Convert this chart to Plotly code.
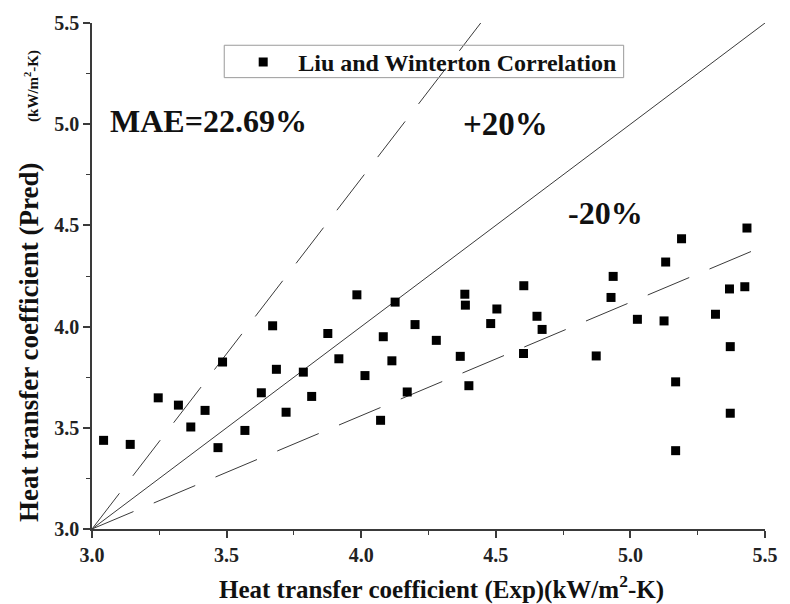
import plotly.graph_objects as go

# Experimental vs predicted heat transfer coefficient (kW/m2-K)
exp_vals = [3.043, 3.142, 3.246, 3.321, 3.367, 3.420, 3.468, 3.485, 3.568, 3.629,
            3.671, 3.685, 3.721, 3.785, 3.816, 3.876, 3.917, 3.984, 4.014, 4.072,
            4.082, 4.114, 4.126, 4.171, 4.200, 4.279, 4.368, 4.385, 4.387, 4.400,
            4.481, 4.504, 4.603, 4.604, 4.653, 4.672, 4.873, 4.928, 4.936, 5.026,
            5.125, 5.131, 5.168, 5.168, 5.190, 5.316, 5.368, 5.371, 5.371, 5.425,
            5.433]
pred_vals = [3.438, 3.418, 3.648, 3.612, 3.504, 3.586, 3.402, 3.825, 3.487, 3.673,
             4.004, 3.789, 3.577, 3.775, 3.655, 3.966, 3.841, 4.157, 3.758, 3.537,
             3.950, 3.831, 4.121, 3.677, 4.010, 3.932, 3.853, 4.160, 4.106, 3.708,
             4.015, 4.087, 3.867, 4.202, 4.051, 3.986, 3.855, 4.144, 4.248, 4.036,
             4.028, 4.319, 3.727, 3.387, 4.434, 4.061, 4.186, 3.901, 3.572, 4.197,
             4.487]

# Reference lines (start, end)
ideal_x = [3.0, 5.5]
ideal_y = [3.0, 5.5]
upper_x = [3.0, 4.444]
upper_y = [3.0, 5.5]
lower_x = [3.0, 5.5]
lower_y = [3.0, 4.40]

x_ticks = [3.0, 3.5, 4.0, 4.5, 5.0, 5.5]
y_ticks = [3.0, 3.5, 4.0, 4.5, 5.0, 5.5]

FONT = "Liberation Serif, Times New Roman, serif"
LINE_C = "#3a3a3a"

fig = go.Figure()
fig.add_trace(go.Scatter(x=ideal_x, y=ideal_y, mode="lines",
                         line=dict(color=LINE_C, width=1), showlegend=False, hoverinfo="skip"))
fig.add_trace(go.Scatter(x=upper_x, y=upper_y, mode="lines",
                         line=dict(color=LINE_C, width=1, dash="45px,22px"), showlegend=False, hoverinfo="skip"))
fig.add_trace(go.Scatter(x=lower_x, y=lower_y, mode="lines",
                         line=dict(color=LINE_C, width=1, dash="45px,22px"), showlegend=False, hoverinfo="skip"))
fig.add_trace(go.Scatter(x=exp_vals, y=pred_vals, mode="markers",
                         name="Liu and Winterton Correlation",
                         marker=dict(symbol="square", size=9, color="black")))

fig.add_annotation(x=3.058, y=5.016, text="MAE=22.69%", showarrow=False, xanchor="left",
                   font=dict(family=FONT, size=32, color="#111", weight="bold"))
fig.add_annotation(x=4.536, y=5.0, text="+20%", showarrow=False,
                   font=dict(family=FONT, size=33, color="#111", weight="bold"))
fig.add_annotation(x=4.907, y=4.562, text="-20%", showarrow=False,
                   font=dict(family=FONT, size=32, color="#111", weight="bold"))

# y-axis title (rotated annotation so it can sit like the original)
fig.add_annotation(xref="paper", yref="paper", x=-0.0945, y=0.481, textangle=-90,
                   showarrow=False, xanchor="center", yanchor="middle",
                   text="Heat transfer coefficient (Pred)&nbsp;&nbsp;&nbsp;&nbsp;&nbsp;&nbsp;"
                        "<span style='font-size:15px'>(kW/m<sup>2</sup>-K)</span>",
                   font=dict(family=FONT, size=27, color="#111", weight="bold"))

# x-axis title
fig.add_annotation(xref="paper", yref="paper", x=0.52, y=-0.115,
                   showarrow=False, xanchor="center", yanchor="middle",
                   text="Heat transfer coefficient (Exp)(kW/m<sup>2</sup>-K)",
                   font=dict(family=FONT, size=25, color="#111", weight="bold"))

# legend frame
fig.add_shape(type="rect", xref="paper", yref="paper", x0=0.1965, x1=0.790, y0=0.892, y1=0.956,
              line=dict(color="#9a9a9a", width=1), fillcolor="rgba(0,0,0,0)")

axis_common = dict(showgrid=False, zeroline=False, showline=True, linecolor=LINE_C, linewidth=1.5)

fig.update_layout(
    width=790, height=604,
    margin=dict(l=92, r=17, t=17, b=75),
    paper_bgcolor="white", plot_bgcolor="white",
    font=dict(family=FONT, color="#111"),
    xaxis=dict(range=[3.0, 5.5], tickvals=x_ticks, ticktext=[f"{v:.1f}" for v in x_ticks],
               ticks="outside", ticklen=7, tickwidth=1.5, tickcolor=LINE_C,
               minor=dict(dtick=0.25, tick0=3.0, ticks="outside", ticklen=4, tickwidth=1.2, tickcolor=LINE_C),
               tickfont=dict(family=FONT, size=20, color="#222", weight="bold"),
               **axis_common),
    yaxis=dict(range=[3.0, 5.5], tickvals=y_ticks, ticktext=[f"{v:.1f}" for v in y_ticks],
               ticks="outside", ticklen=7, tickwidth=1.5, tickcolor=LINE_C,
               minor=dict(dtick=0.25, tick0=3.0, ticks="outside", ticklen=4, tickwidth=1.2, tickcolor=LINE_C),
               tickfont=dict(family=FONT, size=20, color="#222", weight="bold"),
               **axis_common),
    xaxis2=dict(range=[3.0, 5.5], overlaying="x", side="top", anchor="y", dtick=0.25, tick0=3.0,
                ticks="inside", ticklen=5, tickwidth=1.2, tickcolor=LINE_C, showticklabels=False,
                **axis_common),
    yaxis2=dict(range=[3.0, 5.5], overlaying="y", side="right", anchor="x", dtick=0.25, tick0=3.0,
                ticks="inside", ticklen=5, tickwidth=1.2, tickcolor=LINE_C, showticklabels=False,
                **axis_common),
    legend=dict(x=(230 - 92.3) / 680.4, y=0.922, xanchor="left", yanchor="middle",
                bgcolor="rgba(0,0,0,0)", borderwidth=0,
                font=dict(family=FONT, size=24, color="#111", weight="bold"),
                itemwidth=60),
    showlegend=True,
)

fig.write_html("out.html")
